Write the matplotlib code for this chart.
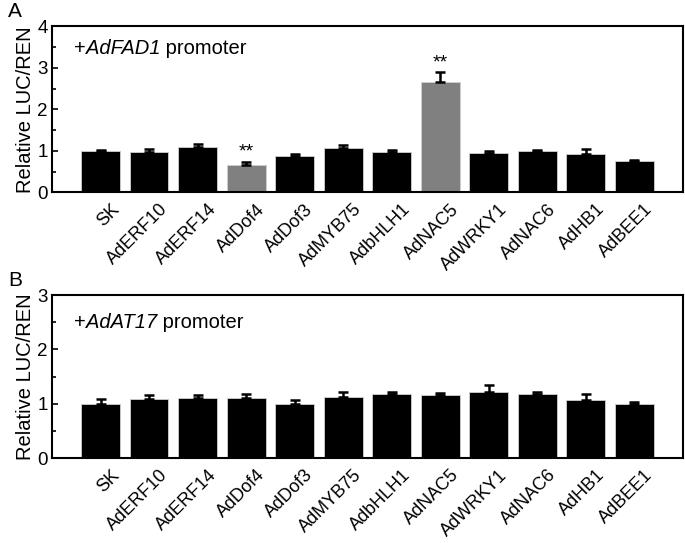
#!/usr/bin/env python3
"""
plot.py
Dual-luciferase assay: relative LUC/REN for two promoters
"""
import numpy as np
import matplotlib.pyplot as plt
from matplotlib.ticker import MultipleLocator
from matplotlib.transforms import ScaledTranslation

plt.rcParams['font.family'] = ['Liberation Sans', 'DejaVu Sans']

factors = ['SK', 'AdERF10', 'AdERF14', 'AdDof4', 'AdDof3', 'AdMYB75',
           'AdbHLH1', 'AdNAC5', 'AdWRKY1', 'AdNAC6', 'AdHB1', 'AdBEE1']

# panel A: +AdFAD1 promoter
fad1_mean = [1.00, 0.97, 1.09, 0.67, 0.88, 1.08, 0.97, 2.66, 0.96, 0.99, 0.93, 0.75]
fad1_err = [0.03, 0.07, 0.07, 0.07, 0.05, 0.06, 0.06, 0.24, 0.05, 0.04, 0.11, 0.03]
fad1_signif = ['', '', '', '**', '', '', '', '**', '', '', '', '']

# panel B: +AdAT17 promoter
at17_mean = [1.00, 1.09, 1.11, 1.10, 1.00, 1.13, 1.18, 1.16, 1.21, 1.18, 1.08, 1.00]
at17_err = [0.09, 0.07, 0.06, 0.08, 0.07, 0.09, 0.03, 0.04, 0.13, 0.04, 0.11, 0.03]


def panel(ax, means, errs, signif, ymax, promoter, letter, label_y):
    x = np.arange(len(factors))
    colors = ['#808080' if s else 'black' for s in signif]
    ax.bar(x, means, width=0.8, color=colors, edgecolor='#d0d0d0',
           linewidth=0.6, zorder=2)
    ax.errorbar(x, means, yerr=[np.zeros(len(errs)), errs], fmt='none',
                ecolor='black', elinewidth=1.8, capsize=3.5, capthick=1.8,
                zorder=3)
    for xi, m, e, s in zip(x, means, errs, signif):
        if s:
            ax.text(xi, m + e + 0.02, s, ha='center', va='bottom',
                    fontsize=14)
    ax.set_xlim(-1, len(factors))
    ax.set_ylim(0, ymax)
    ax.yaxis.set_major_locator(MultipleLocator(1))
    ax.yaxis.set_minor_locator(MultipleLocator(0.5))
    ax.tick_params(axis='y', which='both', direction='in', labelsize=13.5,
                   width=1.2, pad=3)
    ax.tick_params(axis='y', which='major', length=4)
    ax.tick_params(axis='y', which='minor', length=3)
    ax.set_xticks(x)
    ax.set_xticklabels(factors, rotation=45, ha='right',
                       rotation_mode='anchor', fontsize=13)
    ax.tick_params(axis='x', length=0, pad=6)
    offset = ScaledTranslation(0.10, 0, ax.figure.dpi_scale_trans)
    for lab in ax.get_xticklabels():
        lab.set_transform(lab.get_transform() + offset)
    for sp in ax.spines.values():
        sp.set_linewidth(1.5)
    ax.set_ylabel('Relative LUC/REN', fontsize=14.5, labelpad=2)
    # "+Gene promoter" with gene name in italics
    t1 = ax.text(0.035, label_y, '+', transform=ax.transAxes, fontsize=14.5,
                 ha='left', va='center')
    t2 = ax.annotate(promoter, xy=(1, 0.5), xycoords=t1, fontsize=14.5,
                     fontstyle='italic', ha='left', va='center')
    ax.annotate(' promoter', xy=(1, 0.5), xycoords=t2, fontsize=14.5,
                ha='left', va='center')
    ax.text(-0.07, 1.09, letter, transform=ax.transAxes, fontsize=15,
            ha='left', va='center')


fig = plt.figure(figsize=(6.85, 5.43), dpi=100)

ax_a = fig.add_axes([0.0759, 0.6455, 0.921, 0.3057])
ax_b = fig.add_axes([0.0759, 0.156, 0.921, 0.3007])
panel(ax_a, fad1_mean, fad1_err, fad1_signif, 4, 'AdFAD1', 'A', 0.87)
panel(ax_b, at17_mean, at17_err, [''] * len(factors), 3, 'AdAT17', 'B', 0.83)

fig.savefig('out.png', dpi=100)
